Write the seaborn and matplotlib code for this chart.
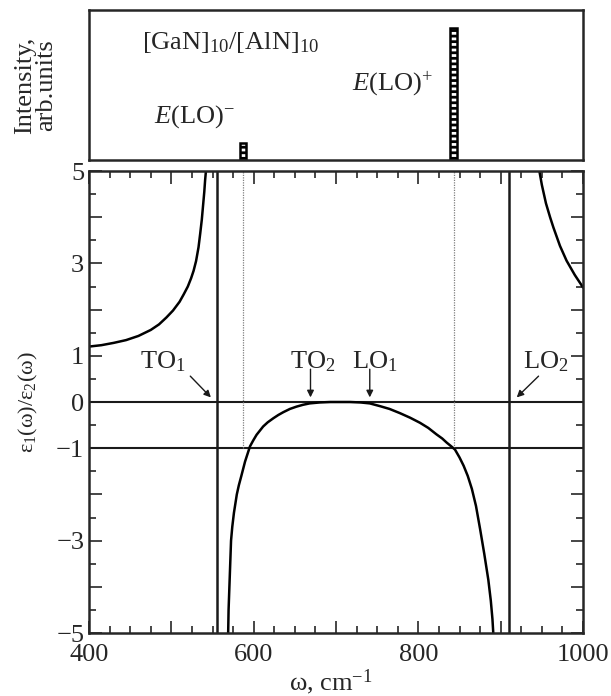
import numpy as np
import pandas as pd
import seaborn as sns
import matplotlib
matplotlib.use('Agg')
import matplotlib.pyplot as plt
from matplotlib.ticker import FixedLocator, MultipleLocator, FuncFormatter

# eps1/eps2 ratio, three branches
w_left = [400, 415, 430, 445, 460, 475, 485, 494, 502, 510, 515, 520, 524, 527,
          530, 533, 535, 537, 538.5, 540, 541, 542]
r_left = [1.20, 1.23, 1.28, 1.34, 1.43, 1.56, 1.68, 1.83, 1.98, 2.17, 2.33, 2.50, 2.68, 2.84,
          3.05, 3.35, 3.64, 3.95, 4.25, 4.55, 4.80, 5.00]

w_mid = [569, 569.5, 570.5, 571.5, 572.5, 574, 576, 579.5, 582, 585, 589.5, 595.5, 599.5,
         603.5, 611.5, 617, 624, 630, 636, 644, 652, 660, 668, 680, 693, 717, 730, 741,
         753.5, 765, 777.5, 790, 802, 812, 822, 829, 834.5, 840, 844.5, 850, 855, 860,
         865, 870, 875, 880, 885, 888, 890, 891]
r_mid = [-5.0, -4.5, -4.0, -3.5, -3.0, -2.7, -2.4, -2.0, -1.8, -1.6, -1.29, -0.96, -0.83,
         -0.71, -0.53, -0.44, -0.35, -0.28, -0.22, -0.15, -0.10, -0.06, -0.03, -0.01, 0.0, 0.0, -0.01, -0.03,
         -0.09, -0.15, -0.24, -0.34, -0.45, -0.56, -0.70, -0.79, -0.88, -0.96, -1.03, -1.20, -1.38, -1.60,
         -1.88, -2.25, -2.75, -3.28, -3.85, -4.3, -4.7, -5.0]

w_right = [947, 950, 955, 960, 964, 972, 980, 990, 1000]
r_right = [5.0, 4.7, 4.3, 4.0, 3.78, 3.38, 3.06, 2.75, 2.48]

# phonon frequencies
to1, lo2 = 555, 910
mode_labels = ['TO$_1$', 'TO$_2$', 'LO$_1$', 'LO$_2$']
mode_pos = [548, 669, 741, 919.5]

# raman peaks (top panel)
peak_pos = [587, 843]
peak_int = [0.115, 0.88]
peak_labels = ['$E$(LO)$^{-}$', '$E$(LO)$^{+}$']

df = pd.concat([
    pd.DataFrame({'w': w_left, 'r': r_left, 'branch': 'left'}),
    pd.DataFrame({'w': w_mid, 'r': r_mid, 'branch': 'mid'}),
    pd.DataFrame({'w': w_right, 'r': r_right, 'branch': 'right'}),
])

sns.set_theme(style='ticks')
plt.rcParams['font.family'] = ['Liberation Serif', 'DejaVu Serif']
plt.rcParams['mathtext.fontset'] = 'custom'
plt.rcParams['mathtext.rm'] = 'Liberation Serif'
plt.rcParams['mathtext.it'] = 'Liberation Serif:italic'
plt.rcParams['hatch.linewidth'] = 2.0
fs = 19

fig = plt.figure(figsize=(6.11, 6.96), dpi=100)
ax = fig.add_axes([0.1457, 0.0905, 0.8085, 0.6638])
ax_top = fig.add_axes([0.1457, 0.770, 0.8085, 0.2155])

# --- bottom panel
ax.axhline(0, color='k', lw=1.5)
ax.axhline(-1, color='k', lw=1.5)
ax.axvline(to1, color='k', lw=1.8)
ax.axvline(lo2, color='k', lw=1.8)
ax.vlines(peak_pos, -1, 5, colors='0.5', linestyles=(0, (1, 1)), lw=0.9)

sns.lineplot(data=df, x='w', y='r', units='branch', estimator=None, sort=False,
             color='black', lw=1.8, ax=ax)

ax.set_xlim(400, 1000)
ax.set_ylim(-5, 5)
ax.xaxis.set_major_locator(FixedLocator(list(range(400, 1001, 100))))
ax.xaxis.set_minor_locator(MultipleLocator(25))
ax.xaxis.set_major_formatter(FuncFormatter(lambda v, p: '%d' % v if int(v) % 200 == 0 else ''))
ax.yaxis.set_major_locator(MultipleLocator(1))
ax.yaxis.set_minor_locator(MultipleLocator(0.5))
shown = {5, 3, 1, 0, -1, -3, -5}
ax.yaxis.set_major_formatter(FuncFormatter(
    lambda v, p: ('%d' % round(v)).replace('-', '\u2212') if round(v) in shown else ''))
ax.tick_params(which='both', direction='in', top=True, right=True, width=1.2, labelsize=fs)
ax.tick_params(which='major', length=9)
ax.tick_params(which='minor', length=5)
ax.tick_params(axis='x', pad=8)
ax.set_xlabel('ω, cm$^{\u22121}$', fontsize=fs)
ax.set_ylabel('ε$_1$(ω)/ε$_2$(ω)', fontsize=16)
ax.yaxis.set_label_coords(-0.10, 0.5)
ax.xaxis.set_label_coords(0.49, -0.075)
for s in ax.spines.values():
    s.set_linewidth(1.8)

text_x = [490, 672, 747, 954.5]
arrow_start = [(523, 0.56), (669, 0.71), (741, 0.71), (946, 0.56)]
for lab, tx, xy, st in zip(mode_labels, text_x, mode_pos, arrow_start):
    ax.text(tx, 0.72, lab, ha='center', va='baseline', fontsize=fs)
    ax.annotate('', xy=(xy, 0.1), xytext=st,
                arrowprops=dict(arrowstyle='-|>', color='k', lw=1.0,
                                mutation_scale=10, shrinkA=0, shrinkB=0))

# --- top panel
sns.barplot(x=peak_pos, y=peak_int, native_scale=True, width=8 / 256, ax=ax_top,
            color='white', saturation=1, edgecolor='black', linewidth=1.8, hatch='---')
ax_top.set_xlim(400, 1000)
ax_top.set_ylim(0, 1)
ax_top.set_xticks([])
ax_top.set_yticks([])
ax_top.set_xlabel('')
ax_top.set_ylabel('Intensity,\narb.units', fontsize=fs, linespacing=0.95)
ax_top.yaxis.set_label_coords(-0.065, 0.5)
for s in ax_top.spines.values():
    s.set_linewidth(1.8)

ax_top.text(464, 0.74, '[GaN]$_{10}$/[AlN]$_{10}$', fontsize=fs, va='baseline')
ax_top.text(479, 0.25, peak_labels[0], fontsize=fs, va='baseline')
ax_top.text(720, 0.47, peak_labels[1], fontsize=fs, va='baseline')

fig.savefig('out.png', dpi=100)
